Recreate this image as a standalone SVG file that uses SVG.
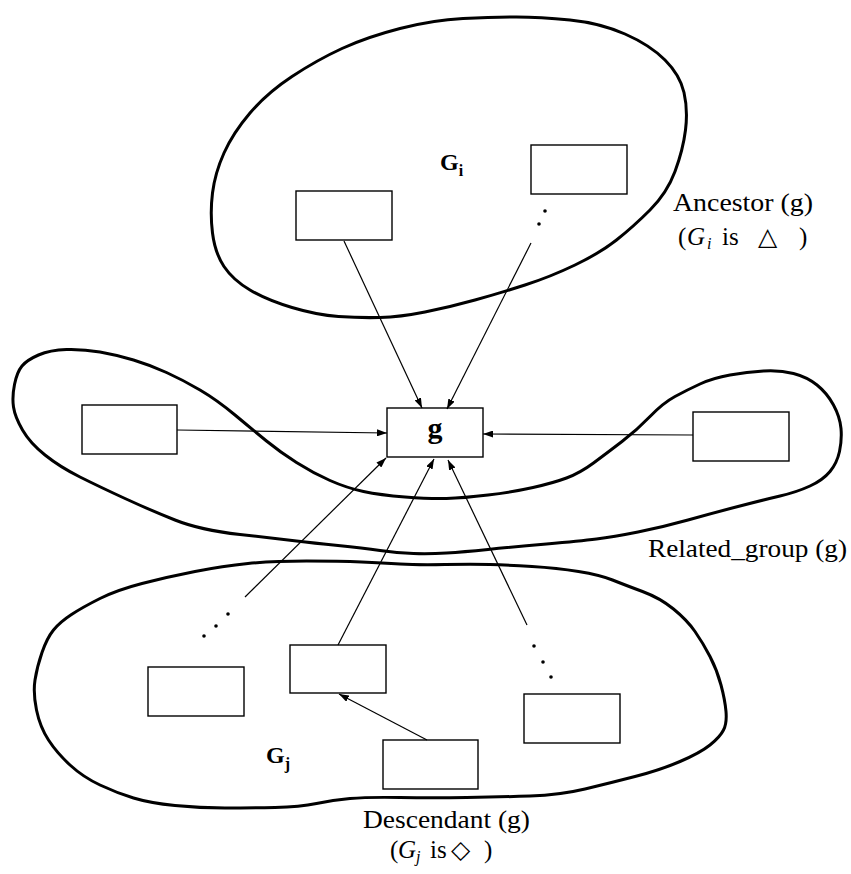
<svg xmlns="http://www.w3.org/2000/svg" width="851" height="874" viewBox="0 0 851 874">
<style>
.blob{fill:none;stroke:#000;stroke-width:3;stroke-linejoin:round}
.box{fill:#fff;stroke:#000;stroke-width:1.4}
.con{fill:none;stroke:#000;stroke-width:1.2}
.lbl{font-family:"Liberation Serif",serif;font-size:25px;fill:#000}
.bold{font-family:"Liberation Serif",serif;font-weight:bold;fill:#000}
.dot{fill:#000}
</style>
<defs>
<marker id="ah" viewBox="0 0 10 7" refX="10" refY="3.5" markerWidth="10" markerHeight="7" markerUnits="userSpaceOnUse" orient="auto">
<path d="M0,0 L10,3.5 L0,7 z" fill="#000"/>
</marker>
</defs>
<rect width="851" height="874" fill="#fff"/>

<g id="ancestor-group">
<path class="blob" d="M 516.5,17 Q 540,17 570,20 Q 600,23 625,34 Q 650,45 665,60 Q 680,75 684,92.5 Q 688,110 685.5,130 Q 683,150 675,171.5 Q 667,193 650,210 Q 633,227 616.5,240 Q 600,253 575,265 Q 550,277 525,285 Q 500,293 475,300 Q 450,307 425,312 Q 400,317 380,317.5 Q 360,318 338.5,316.5 Q 317,315 292,307.5 Q 267,300 250,290 Q 233,280 224,266.5 Q 215,253 212.5,233 Q 210,213 212.5,193 Q 215,173 224,153 Q 233,133 250,113 Q 267,93 292,76.5 Q 317,60 342,48.5 Q 367,37 400,28.5 Q 433,20 463,18.5 Q 493,17 516.5,17 Z"/>
<text class="bold" x="440" y="170" font-size="24">G<tspan font-size="16" dy="6">i</tspan></text>
<text class="lbl" x="673" y="211" textLength="140" lengthAdjust="spacingAndGlyphs">Ancestor (g)</text>
<text class="lbl" y="245"><tspan x="678">(</tspan><tspan x="687" font-style="italic">G</tspan><tspan x="707" font-style="italic" font-size="16" dy="4">i</tspan><tspan x="722" dy="-4">is</tspan><tspan x="758">△</tspan><tspan x="799">)</tspan></text>
</g>

<g id="related-group">
<path class="blob" d="M 38.5,355 Q 50,350 66.5,349.5 Q 83,349 100,352 Q 117,355 133.5,360 Q 150,365 166.5,372.5 Q 183,380 200,390 Q 217,400 235,415 Q 253,430 266.5,441 Q 280,452 296.5,462.5 Q 313,473 330,480.5 Q 347,488 363.5,491.5 Q 380,495 405,497 Q 430,499 446.5,498.5 Q 463,498 488,495 Q 513,492 533,487.5 Q 553,483 566.5,478 Q 580,473 593.5,463 Q 607,453 622,441.5 Q 637,430 650,416.5 Q 663,403 675,396.5 Q 687,390 700,384 Q 713,378 730,375 Q 747,372 763.5,371 Q 780,370 793.5,373.5 Q 807,377 817,385 Q 827,393 833.5,405 Q 840,417 841,428.5 Q 842,440 839.5,451.5 Q 837,463 830,471.5 Q 823,480 810,486 Q 797,492 780,496 Q 763,500 738,506.5 Q 713,513 688,520 Q 663,527 638,532 Q 613,537 596.5,539 Q 580,541 546.5,544 Q 513,547 488,549.5 Q 463,552 446.5,553 Q 430,554 413.5,553.5 Q 397,553 380,550.5 Q 363,548 338,545.5 Q 313,543 296.5,541 Q 280,539 240,534.5 Q 200,530 175,520 Q 150,510 125,498.5 Q 100,487 80,477 Q 60,467 45,455 Q 30,443 22.5,430 Q 15,417 13.5,407 Q 12,397 14.5,384.5 Q 17,372 22,366 Q 27,360 38.5,355 Z"/>
<text class="lbl" x="648" y="557" textLength="199" lengthAdjust="spacingAndGlyphs">Related_group (g)</text>
</g>

<g id="descendant-group">
<path class="blob" d="M 100,598.5 Q 117,590 142,583.5 Q 167,577 195,571.5 Q 223,566 248,563.5 Q 273,561 306.5,561 Q 340,561 361.5,562 Q 383,563 400,564 Q 417,565 445,564.5 Q 473,564 490,564.5 Q 507,565 532,566.5 Q 557,568 578.5,571.5 Q 600,575 612.5,580 Q 625,585 642.5,591.5 Q 660,598 673.5,609 Q 687,620 695,631.5 Q 703,643 710,656.5 Q 717,670 721,685 Q 725,700 726,711.5 Q 727,723 723.5,730 Q 720,737 710,745 Q 700,753 680,761.5 Q 660,770 635,776.5 Q 610,783 585,789 Q 560,795 530,796 Q 500,797 466.5,797.5 Q 433,798 400,797.5 Q 367,797 350,798.5 Q 333,800 316.5,803.5 Q 300,807 275,807.5 Q 250,808 225,808 Q 200,808 175,805.5 Q 150,803 133.5,798 Q 117,793 100,785 Q 83,777 70,765 Q 57,753 48.5,740 Q 40,727 36.5,710 Q 33,693 35,680 Q 37,667 42,652.5 Q 47,638 53.5,630 Q 60,622 71.5,614.5 Q 83,607 100,598.5 Z"/>
<text class="bold" x="266" y="763" font-size="24">G<tspan font-size="16" dy="6">j</tspan></text>
<text class="lbl" x="363" y="828" textLength="167" lengthAdjust="spacingAndGlyphs">Descendant (g)</text>
<text class="lbl" y="858"><tspan x="390">(</tspan><tspan x="398" font-style="italic">G</tspan><tspan x="416" font-style="italic" font-size="16" dy="4">j</tspan><tspan x="430" dy="-4">is</tspan><tspan x="451">◇</tspan><tspan x="484">)</tspan></text>
</g>

<g id="node-a1"><rect class="box" x="296" y="191" width="96" height="49"/></g>
<g id="node-a2"><rect class="box" x="531" y="145" width="96" height="49"/></g>
<g id="node-g"><rect class="box" x="387" y="408" width="96" height="49"/><text class="bold" x="435" y="438" font-size="30" text-anchor="middle">g</text></g>
<g id="node-r1"><rect class="box" x="82" y="405" width="95" height="49"/></g>
<g id="node-r2"><rect class="box" x="693" y="412" width="96" height="49"/></g>
<g id="node-d1"><rect class="box" x="148" y="667" width="96" height="49"/></g>
<g id="node-d2"><rect class="box" x="290" y="645" width="96" height="48"/></g>
<g id="node-d3"><rect class="box" x="383" y="740" width="95" height="49"/></g>
<g id="node-d4"><rect class="box" x="524" y="694" width="96" height="49"/></g>

<g id="connectors">
<line class="con" x1="344" y1="241" x2="422" y2="408" marker-end="url(#ah)"/>
<line class="con" x1="531" y1="243" x2="447" y2="409" marker-end="url(#ah)"/>
<line class="con" x1="177" y1="430" x2="387" y2="433" marker-end="url(#ah)"/>
<line class="con" x1="693" y1="435" x2="483" y2="434" marker-end="url(#ah)"/>
<line class="con" x1="245" y1="597" x2="386" y2="458" marker-end="url(#ah)"/>
<line class="con" x1="338" y1="645" x2="434" y2="459" marker-end="url(#ah)"/>
<line class="con" x1="527" y1="625" x2="448" y2="460" marker-end="url(#ah)"/>
<line class="con" x1="427" y1="740" x2="339" y2="694" marker-end="url(#ah)"/>
<circle class="dot" cx="545" cy="211" r="1.8"/>
<circle class="dot" cx="539" cy="224" r="1.8"/>
<circle class="dot" cx="228" cy="614" r="1.8"/>
<circle class="dot" cx="216" cy="626" r="1.8"/>
<circle class="dot" cx="204" cy="636" r="1.8"/>
<circle class="dot" cx="534" cy="646" r="1.8"/>
<circle class="dot" cx="543" cy="662" r="1.8"/>
<circle class="dot" cx="551" cy="677" r="1.8"/>
</g>
</svg>
